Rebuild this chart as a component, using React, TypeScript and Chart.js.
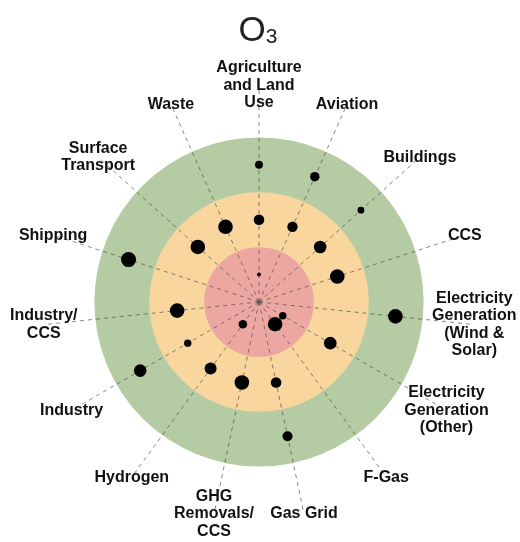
import { useEffect, useRef } from "react";
import { Chart, registerables } from "chart.js";

Chart.register(...registerables);

// ---- data ----
const titleMain = "O";
const titleSub = "3";

const categories: string[][] = [
  ["Agriculture", "and Land", "Use"],
  ["Aviation"],
  ["Buildings"],
  ["CCS"],
  ["Electricity", "Generation", "(Wind &", "Solar)"],
  ["Electricity", "Generation", "(Other)"],
  ["F-Gas"],
  ["Gas Grid"],
  ["GHG", "Removals/", "CCS"],
  ["Hydrogen"],
  ["Industry"],
  ["Industry/", "CCS"],
  ["Shipping"],
  ["Surface", "Transport"],
  ["Waste"],
];

// band boundaries (inner red, middle orange, outer green)
const bandEdges = [1, 2, 3];
const scaleMax = 3.9;

// radial position of each dot (null = no dot on that spoke)
const innerValues = [0.5, null, null, null, null, 0.5, 0.5, null, null, 0.5, null, null, null, null, null];
const middleValues = [1.5, 1.5, 1.5, 1.5, null, 1.5, null, 1.5, 1.5, 1.5, 1.5, 1.5, null, 1.5, 1.5];
const outerValues = [2.5, 2.5, 2.5, null, 2.5, null, null, 2.5, null, null, 2.5, null, 2.5, null, null];

// dot magnitude
const innerSizes = [2, null, null, null, null, 3.7, 7.3, null, null, 4.3, null, null, null, null, null];
const middleSizes = [5.3, 5.2, 6.3, 7.3, null, 6.3, null, 5.3, 7.3, 6, 3.7, 7.3, null, 7.3, 7.3];
const outerSizes = [4, 4.7, 3.4, null, 7.3, null, null, 5, null, null, 6.3, null, 7.5, null, null];

// ---- styles ----
const ringColors = ["#eca7a2", "#f8d69d", "#b5cba3"];
const labelFont = "bold 16px 'Liberation Sans', Arial, Helvetica, sans-serif";
const labelLineHeight = 17.5;
const labelValue = 3.945;

const decorPlugin = {
  id: "decor",
  beforeDraw(chart: any) {
    const s = chart.scales.r;
    const ctx = chart.ctx;
    ctx.save();
    for (let k = bandEdges.length - 1; k >= 0; k--) {
      ctx.beginPath();
      ctx.arc(s.xCenter, s.yCenter, s.getDistanceFromCenterForValue(bandEdges[k]), 0, Math.PI * 2);
      ctx.fillStyle = ringColors[k];
      ctx.fill();
    }
    ctx.restore();
  },
  afterDraw(chart: any) {
    const s = chart.scales.r;
    const ctx = chart.ctx;
    ctx.save();
    // category labels
    ctx.font = labelFont;
    ctx.fillStyle = "#111";
    ctx.textAlign = "center";
    ctx.textBaseline = "middle";
    const dist = s.getDistanceFromCenterForValue(labelValue);
    categories.forEach((lines, i) => {
      const p = s.getPointPosition(i, dist);
      const n = lines.length;
      lines.forEach((line, j) => {
        ctx.fillText(line, p.x, p.y + (j - (n - 1) / 2) * labelLineHeight);
      });
    });
    // title
    const cx = chart.width / 2 - 2;
    const baseY = chart.chartArea.top - 47;
    ctx.textBaseline = "alphabetic";
    ctx.textAlign = "left";
    ctx.font = "35px 'Liberation Sans', Arial, Helvetica, sans-serif";
    const w1 = ctx.measureText(titleMain).width;
    ctx.font = "21px 'Liberation Sans', Arial, Helvetica, sans-serif";
    const w2 = ctx.measureText(titleSub).width;
    const x0 = cx - (w1 + w2) / 2;
    ctx.fillStyle = "#222";
    ctx.font = "35px 'Liberation Sans', Arial, Helvetica, sans-serif";
    ctx.fillText(titleMain, x0, baseY);
    ctx.font = "21px 'Liberation Sans', Arial, Helvetica, sans-serif";
    ctx.fillText(titleSub, x0 + w1, baseY + 2);
    ctx.restore();
  },
};

function makeDataset(label: string, values: (number | null)[], sizes: (number | null)[]) {
  return {
    label,
    data: values,
    showLine: false,
    fill: false,
    borderWidth: 0,
    borderColor: "rgba(0,0,0,0)",
    backgroundColor: "rgba(0,0,0,0)",
    pointBackgroundColor: "#000",
    pointBorderWidth: 0,
    pointBorderColor: "#000",
    pointRadius: (c: any) => sizes[c.dataIndex] ?? 0,
    pointHoverRadius: (c: any) => sizes[c.dataIndex] ?? 0,
  };
}

export default function App() {
  const ref = useRef<HTMLCanvasElement | null>(null);
  useEffect(() => {
    if (!ref.current) return;
    const chart = new Chart(ref.current, {
      type: "radar",
      data: {
        labels: categories,
        datasets: [
          makeDataset("Inner", innerValues, innerSizes),
          makeDataset("Middle", middleValues, middleSizes),
          makeDataset("Outer", outerValues, outerSizes),
        ] as any,
      },
      options: {
        responsive: false,
        animation: false,
        events: [],
        layout: { padding: { left: 45, right: 46, top: 88, bottom: 25 } },
        plugins: {
          legend: { display: false },
          tooltip: { enabled: false },
          title: { display: false },
          filler: { propagate: false },
        },
        scales: {
          r: {
            min: 0,
            max: scaleMax,
            startAngle: 0,
            ticks: { display: false },
            grid: { display: false },
            pointLabels: { display: false },
            angleLines: {
              display: true,
              color: "rgba(70,70,70,0.65)",
              lineWidth: 1,
              borderDash: [4, 4],
            },
          },
        },
      },
      plugins: [decorPlugin],
    });
    return () => chart.destroy();
  }, []);
  return (
    <div style={{ position: "fixed", left: 0, top: 0, width: 520, height: 542, background: "#fff" }}>
      <canvas ref={ref} width={520} height={542} style={{ display: "block" }} />
    </div>
  );
}
